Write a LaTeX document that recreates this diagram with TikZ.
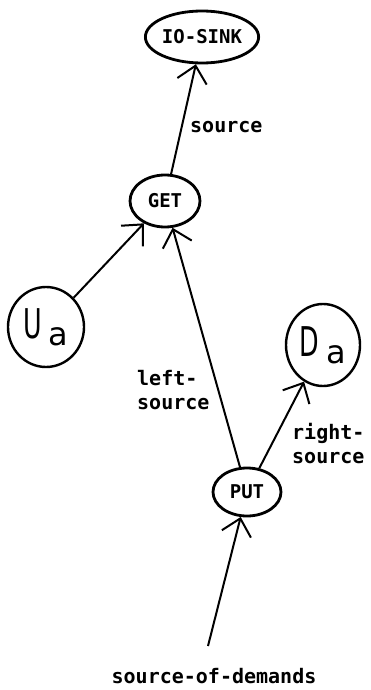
\documentclass[tikz,border=0pt]{standalone}
\usepackage{fontspec}
\usepackage{graphicx}
\usetikzlibrary{shapes.geometric,arrows.meta}
\newfontfamily\plotfont{DejaVu Sans Mono}
\newfontfamily\bigfont{DejaVu Sans}
\newcommand{\agentlbl}[1]{{\bigfont\fontsize{41}{41}\selectfont\scalebox{0.62}[1]{#1}\hspace{7pt}\raisebox{-7pt}{\fontsize{32}{32}\selectfont a}}}
\begin{document}
\begin{tikzpicture}[x=1pt,y=-1pt,
  lbl/.style={font=\plotfont\bfseries\fontsize{20}{24}\selectfont, inner sep=0pt, align=left},
  proc/.style={ellipse, draw, line width=2.8pt, inner sep=0pt, font=\plotfont\bfseries\fontsize{19}{24}\selectfont},
  agent/.style={ellipse, draw, line width=2.4pt, inner sep=0pt},
  arr/.style={line width=2pt, -{Straight Barb[length=16pt,width=30pt]}}]
  \fill[white] (0,0) rectangle (371,690);
  \useasboundingbox (0,0) rectangle (371,690);

  \node[proc, minimum width=112pt, minimum height=52pt] (sink) at (202,37) {IO-SINK};
  \node[proc, minimum width=70pt, minimum height=52pt] (get) at (165,201) {GET};
  \node[proc, minimum width=68pt, minimum height=48pt] (put) at (247,492) {PUT};
  \node[agent, minimum width=76pt, minimum height=80pt] (ua) at (46,327) {\agentlbl{U}};
  \node[agent, minimum width=74pt, minimum height=82pt] (da) at (323,345) {\agentlbl{D}};
  \coordinate (dem) at (208,646);

  \draw[arr] (get) -- (sink);
  \draw[arr] (ua) -- (get);
  \draw[arr] (put) -- (get);
  \draw[arr] (put) -- (da);
  \draw[arr] (dem) -- (put);

  \node[lbl, anchor=west] (lsrc) at (190,127) {source};
  \node[lbl, anchor=west] (lleft) at (137,390) {left-\\source};
  \node[lbl, anchor=west] (lright) at (292,444) {right-\\source};
  \node[lbl] (ldem) at (214,676) {source-of-demands};
\end{tikzpicture}
\end{document}
